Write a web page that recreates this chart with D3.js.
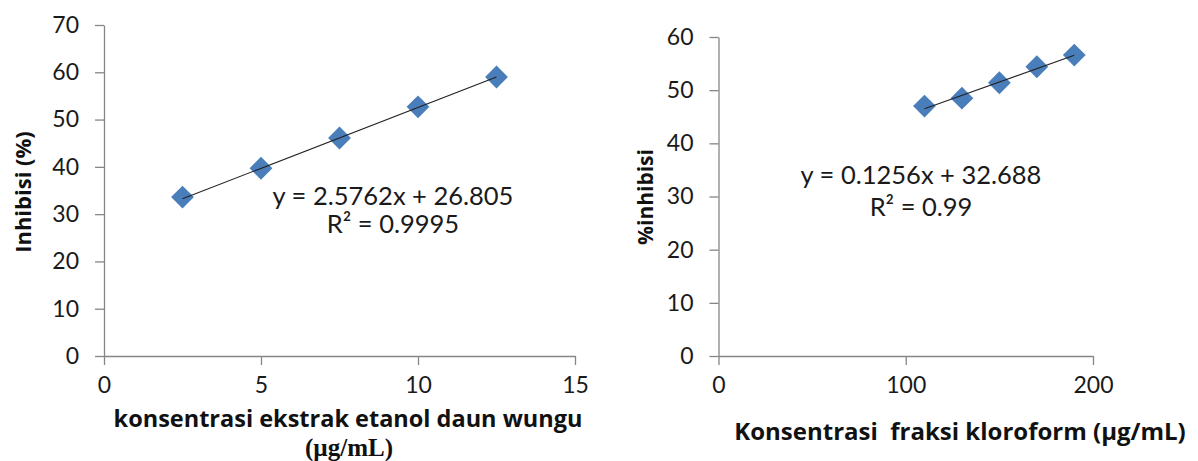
<!DOCTYPE html>
<html>
<head>
<meta charset="utf-8">
<script src="https://cdn.jsdelivr.net/npm/d3@7"></script>
<style>
  html, body { margin: 0; padding: 0; background: #fff; }
  svg { display: block; }
  .tick text { font-family: Lato, "Open Sans", sans-serif; font-size: 23px; fill: #1a1a1a; }
  .axis path, .axis line { stroke: #868686; stroke-width: 1.3; }
  .ttl { font-family: "Open Sans", Lato, sans-serif; font-weight: bold; fill: #111; white-space: pre; }
  .eq { font-family: Lato, "Open Sans", sans-serif; font-size: 25.5px; fill: #1a1a1a; }
</style>
</head>
<body>
<script>
// ---- Left chart data ----
const leftX = [2.5, 5, 7.5, 10, 12.5];
const leftY = [33.6, 39.7, 46.1, 52.7, 59.0];
const leftXTicks = [0, 5, 10, 15];
const leftYTicks = [0, 10, 20, 30, 40, 50, 60, 70];
const leftFit = { slope: 2.5762, intercept: 26.805 };
const leftEq = ["y = 2.5762x + 26.805", "R² = 0.9995"];
const leftYTitle = "Inhibisi (%)";
const leftXTitle = ["konsentrasi ekstrak etanol daun wungu", "(µg/mL)"];

// ---- Right chart data ----
const rightX = [110, 130, 150, 170, 190];
const rightY = [47.0, 48.5, 51.4, 54.4, 56.6];
const rightXTicks = [0, 100, 200];
const rightYTicks = [0, 10, 20, 30, 40, 50, 60];
const rightFit = { slope: 0.1256, intercept: 32.688 };
const rightEq = ["y = 0.1256x + 32.688", "R² = 0.99"];
const rightYTitle = "%inhibisi";
const rightXTitle = "Konsentrasi  fraksi kloroform (µg/mL)";

const W = 1198, H = 461;
const svg = d3.select("body").append("svg").attr("width", W).attr("height", H);

function panel(cfg) {
  const x = d3.scaleLinear().domain(cfg.xDomain).range([cfg.x0, cfg.x1]);
  const y = d3.scaleLinear().domain(cfg.yDomain).range([cfg.y0, cfg.y1]);
  const g = svg.append("g");

  g.append("g").attr("class", "axis")
    .attr("transform", `translate(0,${cfg.y0})`)
    .call(d3.axisBottom(x).tickValues(cfg.xTicks).tickSize(9).tickSizeOuter(0).tickPadding(12).tickFormat(d3.format("d")));
  g.append("g").attr("class", "axis")
    .attr("transform", `translate(${cfg.x0},0)`)
    .call(d3.axisLeft(y).tickValues(cfg.yTicks).tickSize(9).tickSizeOuter(0).tickPadding(16).tickFormat(d3.format("d")));

  const xs = d3.extent(cfg.xs);
  const sym = d3.symbol().type(d3.symbolSquare).size(260);
  g.selectAll("path.pt").data(cfg.xs.map((d, i) => [d, cfg.ys[i]])).join("path")
    .attr("class", "pt")
    .attr("d", sym)
    .attr("transform", d => `translate(${x(d[0])},${y(d[1])}) rotate(45)`)
    .attr("fill", "#4a7ebb");

  // linear trendline drawn over the markers
  g.append("line")
    .attr("x1", x(xs[0])).attr("y1", y(cfg.fit.slope * xs[0] + cfg.fit.intercept))
    .attr("x2", x(xs[1])).attr("y2", y(cfg.fit.slope * xs[1] + cfg.fit.intercept))
    .attr("stroke", "#222").attr("stroke-width", 1.1);

  cfg.eq.forEach((t, i) => {
    g.append("text").attr("class", "eq")
      .attr("x", cfg.eqPos[i][0]).attr("y", cfg.eqPos[i][1])
      .attr("text-anchor", "middle").text(t);
  });
  return { x, y, g };
}

panel({
  xDomain: [0, 15], yDomain: [0, 70], x0: 104, x1: 575, y0: 356, y1: 25,
  xTicks: leftXTicks, yTicks: leftYTicks, xs: leftX, ys: leftY, fit: leftFit,
  eq: leftEq, eqPos: [[393, 205], [393, 233]]
});
panel({
  xDomain: [0, 200], yDomain: [0, 60], x0: 718.5, x1: 1093, y0: 356, y1: 37,
  xTicks: rightXTicks, yTicks: rightYTicks, xs: rightX, ys: rightY, fit: rightFit,
  eq: rightEq, eqPos: [[921, 184], [921, 216]]
});

// axis titles
svg.append("text").attr("class", "ttl")
  .attr("transform", "translate(31,192) rotate(-90)")
  .attr("text-anchor", "middle").style("font-size", "22px").text(leftYTitle);
svg.append("text").attr("class", "ttl")
  .attr("transform", "translate(653,197) rotate(-90)")
  .attr("text-anchor", "middle").style("font-size", "21px").text(rightYTitle);
svg.append("text").attr("class", "ttl")
  .attr("x", 348).attr("y", 427).attr("text-anchor", "middle")
  .style("font-size", "23.5px").text(leftXTitle[0]);
svg.append("text")
  .attr("x", 349).attr("y", 456).attr("text-anchor", "middle")
  .style("font-family", "'Liberation Serif', serif").style("font-weight", "bold")
  .style("font-size", "25px").style("fill", "#111").text(leftXTitle[1]);
svg.append("text").attr("class", "ttl")
  .attr("x", 960).attr("y", 440).attr("text-anchor", "middle")
  .style("font-size", "24px").text(rightXTitle);
</script>
</body>
</html>
